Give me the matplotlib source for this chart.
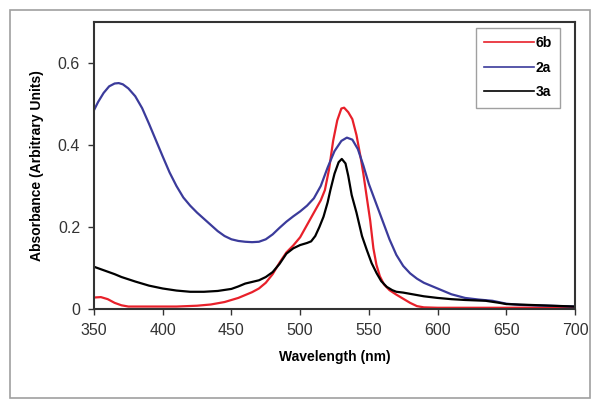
import matplotlib
matplotlib.use("Agg")
import matplotlib.pyplot as plt
from matplotlib.patches import Rectangle

plt.rcParams["font.family"] = ["Liberation Sans", "DejaVu Sans"]

# absorbance spectra (wavelength in nm)
wl_6b = [350, 355, 360, 365, 370, 375, 390, 410, 425, 435, 445, 455, 465, 470,
         475, 480, 485, 490, 495, 500, 505, 510, 515, 518, 521, 524, 527, 530,
         532, 535, 538, 541, 544, 546, 548.5, 551, 553.3, 555.5, 558, 561, 565,
         570, 575, 580, 585, 590, 600, 650, 700]
abs_6b = [0.028, 0.029, 0.024, 0.015, 0.009, 0.006, 0.006, 0.006, 0.008, 0.011,
          0.017, 0.027, 0.041, 0.050, 0.064, 0.085, 0.113, 0.138, 0.155, 0.175,
          0.205, 0.235, 0.265, 0.290, 0.340, 0.410, 0.460, 0.489, 0.491, 0.480,
          0.463, 0.424, 0.370, 0.330, 0.272, 0.215, 0.148, 0.108, 0.080, 0.060,
          0.046, 0.035, 0.025, 0.015, 0.007, 0.004, 0.003, 0.003, 0.004]

wl_2a = [350, 353, 357, 361, 365, 368, 371, 375, 380, 385, 390, 395, 400, 405,
         410, 415, 420, 425, 430, 435, 440, 445, 450, 455, 460, 465, 470, 475,
         480, 485, 490, 495, 500, 505, 510, 515, 520, 525, 530, 534, 538, 542,
         546, 550, 555, 560, 565, 570, 575, 580, 585, 590, 595, 600, 610, 620,
         630, 640, 650, 660, 680, 700]
abs_2a = [0.485, 0.505, 0.527, 0.543, 0.550, 0.551, 0.548, 0.538, 0.519, 0.490,
          0.452, 0.412, 0.372, 0.333, 0.300, 0.272, 0.252, 0.235, 0.220, 0.205,
          0.190, 0.178, 0.170, 0.166, 0.164, 0.163, 0.164, 0.170, 0.182, 0.198,
          0.213, 0.226, 0.238, 0.252, 0.270, 0.300, 0.345, 0.385, 0.410, 0.418,
          0.413, 0.390, 0.350, 0.305, 0.260, 0.215, 0.170, 0.132, 0.105, 0.087,
          0.074, 0.064, 0.057, 0.050, 0.036, 0.027, 0.023, 0.020, 0.013, 0.010,
          0.008, 0.006]

wl_3a = [350, 355, 360, 365, 370, 380, 390, 400, 410, 420, 430, 440, 450, 455,
         460, 465, 470, 475, 480, 485, 490, 495, 500, 505, 508, 511, 514, 517,
         520, 522, 525, 528, 530.3, 533, 535, 537.5, 541, 545, 548.5, 552,
         555.7, 559, 563, 567, 570, 575, 580, 590, 600, 610, 620, 635, 645, 650,
         675, 700]
abs_3a = [0.103, 0.097, 0.091, 0.085, 0.078, 0.067, 0.057, 0.050, 0.045, 0.042,
          0.042, 0.044, 0.049, 0.055, 0.062, 0.066, 0.070, 0.078, 0.090, 0.110,
          0.135, 0.148, 0.156, 0.161, 0.165, 0.178, 0.200, 0.225, 0.260, 0.290,
          0.330, 0.358, 0.366, 0.355, 0.325, 0.278, 0.235, 0.178, 0.144, 0.112,
          0.087, 0.068, 0.054, 0.046, 0.042, 0.040, 0.037, 0.031, 0.027, 0.024,
          0.022, 0.020, 0.015, 0.012, 0.009, 0.006]

series = [("6b", wl_6b, abs_6b, "#e8202a"),
          ("2a", wl_2a, abs_2a, "#3b3b9b"),
          ("3a", wl_3a, abs_3a, "#000000")]

x_ticks = [350, 400, 450, 500, 550, 600, 650, 700]
y_ticks = [0, 0.2, 0.4, 0.6]
y_tick_labels = ["0", "0.2", "0.4", "0.6"]

fig = plt.figure(figsize=(6.01, 4.09), dpi=100)
fig.patches.append(Rectangle((10 / 601, 11 / 409), 580 / 601, 388 / 409,
                             transform=fig.transFigure, fill=False,
                             edgecolor="#a0a0a0", linewidth=1.2))
ax = fig.add_axes([94 / 601, 100 / 409, 481 / 601, 287 / 409])

for name, wl, ab, color in series:
    ax.plot(wl, ab, color=color, linewidth=1.6, label=name,
            solid_joinstyle="round")

ax.set_xlim(350, 700)
ax.set_ylim(0, 0.7)
ax.set_xticks(x_ticks)
ax.set_yticks(y_ticks)
ax.set_yticklabels(y_tick_labels)
ax.tick_params(direction="out", length=4, width=1, labelsize=11.5, pad=6,
               colors="#333333")
for s in ax.spines.values():
    s.set_linewidth(1.5)
    s.set_color("#333333")
ax.set_xlabel("Wavelength (nm)", fontsize=10, fontweight="bold", labelpad=9)
ax.set_ylabel("Absorbance (Arbitrary Units)", fontsize=10, fontweight="bold",
              labelpad=10)

leg = ax.legend(loc="upper right", bbox_to_anchor=(560 / 601, 381 / 409),
                bbox_transform=fig.transFigure, borderaxespad=0,
                frameon=True, fancybox=False, edgecolor="#888888",
                handlelength=3.6, handletextpad=0.1, labelspacing=0.75,
                borderpad=0.6, prop={"weight": "bold", "size": 10})
leg.get_frame().set_linewidth(1.0)
for line in leg.get_lines():
    line.set_linewidth(1.2)

fig.savefig("out.png", dpi=100)
